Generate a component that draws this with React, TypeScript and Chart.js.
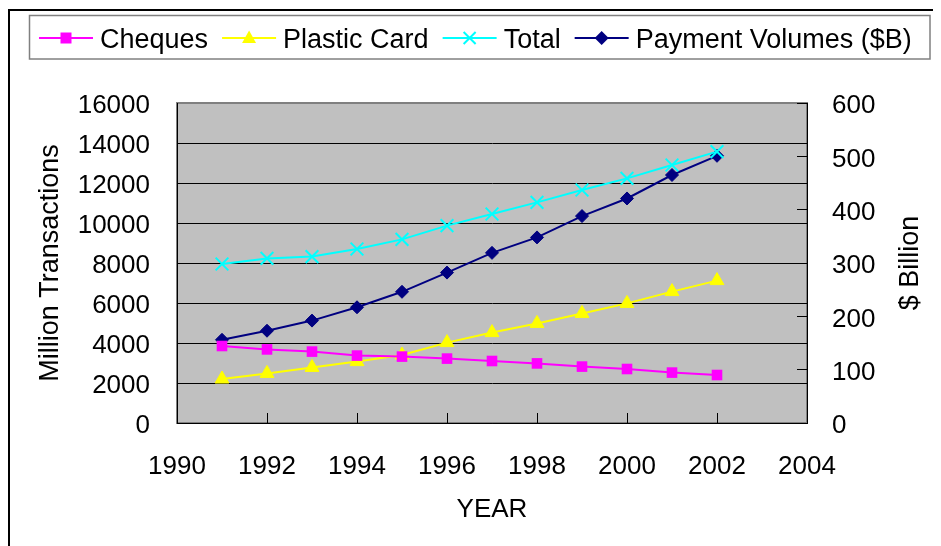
import React, { useEffect, useRef } from 'react';
import { Chart, registerables } from 'chart.js';

Chart.register(...registerables);

const years = [1991, 1992, 1993, 1994, 1995, 1996, 1997, 1998, 1999, 2000, 2001, 2002];
const cheques = [3850, 3680, 3570, 3370, 3320, 3220, 3100, 2980, 2820, 2700, 2520, 2400];
const plasticCard = [2200, 2480, 2780, 3070, 3400, 4020, 4520, 4980, 5480, 5980, 6570, 7120];
const total = [7950, 8230, 8320, 8700, 9180, 9870, 10450, 11030, 11650, 12230, 12900, 13570];
const paymentVolumes = [156, 173, 192, 217, 246, 282, 319, 348, 388, 421, 465, 501];

const seriesLabels = ['Cheques', 'Plastic Card', 'Total', 'Payment Volumes ($B)'];
const seriesColors = ['#FF00FF', '#FFFF00', '#00FFFF', '#000080'];
const seriesMarkers = ['square', 'triangle', 'cross', 'diamond'];

const xRange = [1990, 2004, 2];
const leftRange = [0, 16000, 2000];
const rightRange = [0, 600, 100];

const xTitle = 'YEAR';
const leftTitle = 'Million Transactions';
const rightTitle = '$ Billion';

const FONT = '"Liberation Sans", Arial, Helvetica, sans-serif';

function toPoints(values: number[]) {
  return years.map((yr, i) => ({ x: yr, y: values[i] }));
}

function drawMarker(ctx: CanvasRenderingContext2D, kind: string, x: number, y: number, color: string) {
  ctx.save();
  ctx.fillStyle = color;
  ctx.strokeStyle = color;
  ctx.beginPath();
  if (kind === 'square') {
    ctx.fillRect(x - 5.5, y - 5.5, 11, 11);
  } else if (kind === 'triangle') {
    ctx.moveTo(x, y - 7.5);
    ctx.lineTo(x + 7, y + 5);
    ctx.lineTo(x - 7, y + 5);
    ctx.closePath();
    ctx.fill();
  } else if (kind === 'cross') {
    ctx.lineWidth = 2;
    ctx.moveTo(x - 6, y - 6);
    ctx.lineTo(x + 6, y + 6);
    ctx.moveTo(x + 6, y - 6);
    ctx.lineTo(x - 6, y + 6);
    ctx.stroke();
  } else {
    ctx.moveTo(x, y - 7);
    ctx.lineTo(x + 7, y);
    ctx.lineTo(x, y + 7);
    ctx.lineTo(x - 7, y);
    ctx.closePath();
    ctx.fill();
  }
  ctx.restore();
}

const decorPlugin = {
  id: 'decor',
  beforeDraw(chart: any) {
    const { ctx, chartArea: a, width, height } = chart;
    ctx.save();
    ctx.fillStyle = '#000';
    ctx.fillRect(0, 1, 2, height);
    ctx.fillRect(0, 1, width, 2);
    ctx.fillStyle = '#C0C0C0';
    ctx.fillRect(a.left, a.top, a.right - a.left, a.bottom - a.top);
    ctx.strokeStyle = '#808080';
    ctx.lineWidth = 2;
    ctx.strokeRect(a.left, a.top, a.right - a.left, a.bottom - a.top);
    ctx.restore();
  },
  afterDraw(chart: any) {
    const { ctx, chartArea: a } = chart;
    ctx.save();
    // legend box
    ctx.strokeStyle = '#808080';
    ctx.lineWidth = 1.5;
    ctx.strokeRect(21.5, 7.5, 900.5, 43.5);
    ctx.font = `27px ${FONT}`;
    ctx.textBaseline = 'alphabetic';
    ctx.textAlign = 'left';
    let x = 31;
    const my = 30;
    seriesLabels.forEach((label, i) => {
      ctx.strokeStyle = seriesColors[i];
      ctx.lineWidth = 2;
      ctx.beginPath();
      ctx.moveTo(x, my);
      ctx.lineTo(x + 54, my);
      ctx.stroke();
      drawMarker(ctx, seriesMarkers[i], x + 27, my, seriesColors[i]);
      ctx.fillStyle = '#000';
      const tx = x + 61;
      ctx.fillText(label, tx, 40);
      x = tx + ctx.measureText(label).width + 14;
    });
    // right axis title (reads bottom to top)
    ctx.translate(903, (a.top + a.bottom) / 2);
    ctx.rotate(-Math.PI / 2);
    ctx.font = `27px ${FONT}`;
    ctx.textAlign = 'center';
    ctx.textBaseline = 'middle';
    ctx.fillStyle = '#000';
    ctx.fillText(rightTitle, 0, 0);
    ctx.restore();
  },
};

export default function App() {
  const ref = useRef<HTMLCanvasElement | null>(null);

  useEffect(() => {
    document.body.style.overflow = 'hidden';
    const canvas = ref.current;
    if (!canvas) return;
    const tickFont = { family: FONT, size: 26 };
    const chart = new Chart(canvas, {
      type: 'line',
      data: {
        datasets: [
          {
            label: seriesLabels[0],
            data: toPoints(cheques),
            borderColor: seriesColors[0],
            backgroundColor: seriesColors[0],
            borderWidth: 2,
            pointStyle: 'rect',
            pointRadius: 7.5,
            pointBorderWidth: 0,
            yAxisID: 'y',
          },
          {
            label: seriesLabels[1],
            data: toPoints(plasticCard),
            borderColor: seriesColors[1],
            backgroundColor: seriesColors[1],
            borderWidth: 2,
            pointStyle: 'triangle',
            pointRadius: 8,
            pointBorderWidth: 1,
            yAxisID: 'y',
          },
          {
            label: seriesLabels[2],
            data: toPoints(total),
            borderColor: seriesColors[2],
            backgroundColor: seriesColors[2],
            borderWidth: 2,
            pointStyle: 'crossRot',
            pointRadius: 9,
            pointBorderWidth: 2,
            yAxisID: 'y',
          },
          {
            label: seriesLabels[3],
            data: toPoints(paymentVolumes),
            borderColor: seriesColors[3],
            backgroundColor: seriesColors[3],
            borderWidth: 2,
            pointStyle: 'rectRot',
            pointRadius: 6.5,
            pointBorderWidth: 1,
            yAxisID: 'y1',
          },
        ],
      },
      options: {
        responsive: false,
        animation: false,
        events: [],
        layout: { padding: { top: 95, left: 0, right: 0, bottom: 0 } },
        plugins: { legend: { display: false }, tooltip: { enabled: false } },
        scales: {
          x: {
            type: 'linear',
            min: xRange[0],
            max: xRange[1],
            afterFit: (s: any) => { s.height = 123; },
            ticks: { stepSize: xRange[2], color: '#000', font: tickFont, padding: 38, maxRotation: 0, autoSkip: false, callback: (v: any) => String(v) },
            grid: { drawOnChartArea: false, drawTicks: true, tickLength: -10, color: '#000', lineWidth: 1 },
            border: { color: '#000', width: 1 },
            title: { display: true, text: xTitle, color: '#000', font: { family: FONT, size: 26 }, padding: { top: 0, bottom: 21 } },
          },
          y: {
            type: 'linear',
            position: 'left',
            min: leftRange[0],
            max: leftRange[1],
            afterFit: (s: any) => { s.width = 169; },
            ticks: { stepSize: leftRange[2], color: '#000', font: tickFont, padding: 27, labelOffset: 3, callback: (v: any) => String(v) },
            grid: {
              drawTicks: false,
              color: (c: any) => (c.tick && c.tick.value === leftRange[1] ? '#808080' : '#000'),
              lineWidth: 1,
            },
            border: { color: '#000', width: 1 },
            title: { display: true, text: leftTitle, color: '#000', font: { family: FONT, size: 27 }, padding: { top: 26, bottom: 0 } },
          },
          y1: {
            type: 'linear',
            position: 'right',
            min: rightRange[0],
            max: rightRange[1],
            afterFit: (s: any) => { s.width = 134; },
            ticks: { stepSize: rightRange[2], color: '#000', font: tickFont, padding: 35, labelOffset: 3, callback: (v: any) => String(v) },
            grid: { drawOnChartArea: false, drawTicks: true, tickLength: -10, color: '#000', lineWidth: 1 },
            border: { color: '#000', width: 1 },
          },
        },
      },
      plugins: [decorPlugin],
    } as any);
    return () => chart.destroy();
  }, []);

  return (
    <canvas
      ref={ref}
      width={933}
      height={538}
      style={{ display: 'block', width: '933px', height: '538px' }}
    />
  );
}
